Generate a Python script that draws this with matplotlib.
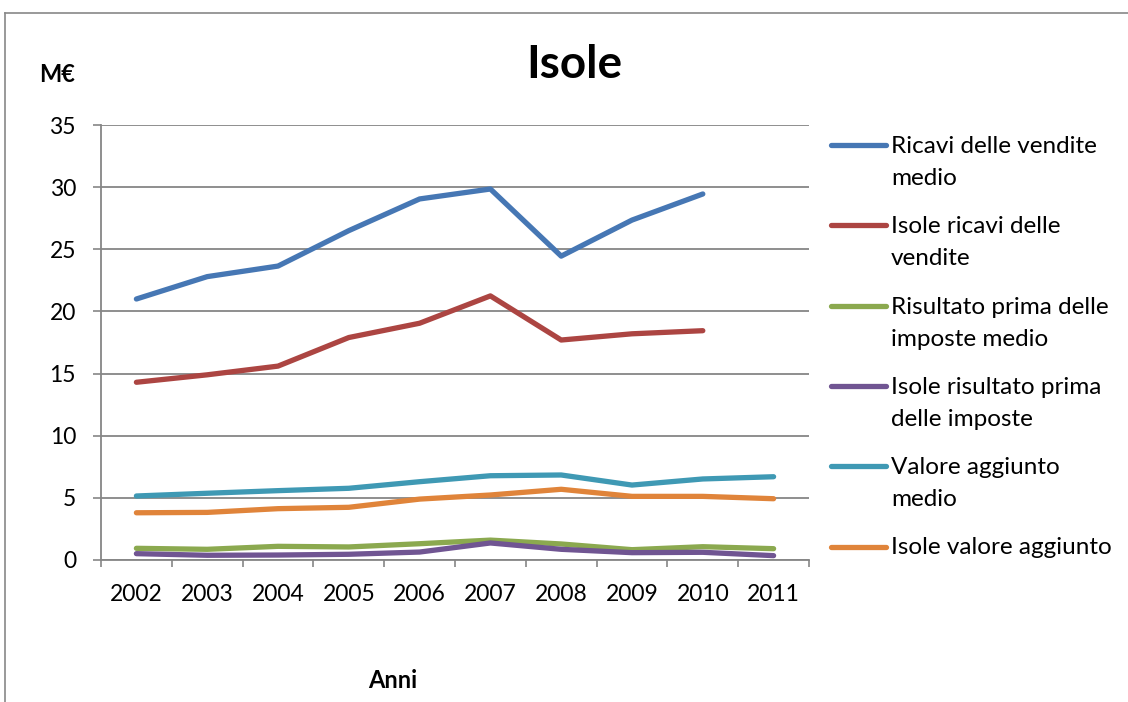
import matplotlib.pyplot as plt
import numpy as np
from matplotlib.lines import Line2D

plt.rcParams['font.family'] = ['Lato', 'DejaVu Sans']

# data
anni = ['2002', '2003', '2004', '2005', '2006', '2007', '2008', '2009', '2010', '2011']
ricavi_medio = [21.0, 22.8, 23.65, 26.5, 29.05, 29.85, 24.45, 27.35, 29.45, np.nan]
isole_ricavi = [14.3, 14.9, 15.6, 17.9, 19.05, 21.25, 17.7, 18.2, 18.45, np.nan]
risultato_medio = [0.94, 0.86, 1.1, 1.05, 1.31, 1.6, 1.29, 0.83, 1.07, 0.91]
isole_risultato = [0.51, 0.38, 0.4, 0.46, 0.64, 1.37, 0.86, 0.59, 0.62, 0.35]
valore_medio = [5.15, 5.37, 5.58, 5.77, 6.3, 6.78, 6.84, 6.03, 6.52, 6.7]
isole_valore = [3.8, 3.83, 4.13, 4.24, 4.9, 5.23, 5.69, 5.12, 5.12, 4.93]

series = [
    ("Ricavi delle vendite\nmedio", ricavi_medio, '#4677B4'),
    ("Isole ricavi delle\nvendite", isole_ricavi, '#AC4542'),
    ("Risultato prima delle\nimposte medio", risultato_medio, '#8BA94F'),
    ("Isole risultato prima\ndelle imposte", isole_risultato, '#705592'),
    ("Valore aggiunto\nmedio", valore_medio, '#3F99B4'),
    ("Isole valore aggiunto", isole_valore, '#E0843A'),
]

W, H = 1128, 702
fig = plt.figure(figsize=(W / 100, H / 100), dpi=100)
ax = fig.add_axes([101 / W, 1 - 560 / H, (809 - 101) / W, (560 - 125) / H])

x = np.arange(len(anni))
for label, vals, col in series:
    ax.plot(x, vals, color=col, linewidth=3.8, solid_capstyle='round', solid_joinstyle='round')

grid_col = '#868686'
ax.set_ylim(0, 35)
ax.set_xlim(-0.5, len(anni) - 0.5)
ax.set_yticks(range(0, 36, 5))
ax.set_xticks(x)
ax.set_xticklabels(anni)
ax.set_xticks(np.arange(-0.5, len(anni)), minor=True)
ax.tick_params(axis='x', which='major', length=0, pad=17, labelsize=16.5)
ax.tick_params(axis='x', which='minor', length=5, width=1.2, color=grid_col)
ax.tick_params(axis='y', length=6, width=1.2, color=grid_col, labelsize=16.5, pad=12)
ax.yaxis.grid(True, color=grid_col, linewidth=1.3)
ax.set_axisbelow(True)
for s in ['top', 'right']:
    ax.spines[s].set_visible(False)
for s in ['left', 'bottom']:
    ax.spines[s].set_color(grid_col)
    ax.spines[s].set_linewidth(1.3)

# outer chart frame
fig.add_artist(Line2D([5 / W, 5 / W], [0, 1 - 13 / H], color='#888888', linewidth=1.2))
fig.add_artist(Line2D([5 / W, 1], [1 - 13 / H, 1 - 13 / H], color='#888888', linewidth=1.2))

fig.text(574 / W, 1 - 65 / H, "Isole", fontsize=33, fontweight='bold', ha='center', va='center')
fig.text(57 / W, 1 - 75 / H, "M€", fontsize=17, fontweight='bold', ha='center', va='center')
fig.text(393 / W, 1 - 680 / H, "Anni", fontsize=17, fontweight='bold', ha='center', va='center')

# legend drawn at the right
for i, (label, vals, col) in enumerate(series):
    yl = 145 + i * 80.3
    fig.add_artist(Line2D([831 / W, 886 / W], [1 - yl / H, 1 - yl / H], color=col,
                          linewidth=3.8, solid_capstyle='round'))
    for k, line in enumerate(label.split('\n')):
        fig.text(891 / W, 1 - (yl + 8 + 32 * k) / H, line, fontsize=17.5,
                 ha='left', va='baseline')

fig.savefig('out.png', dpi=100)
